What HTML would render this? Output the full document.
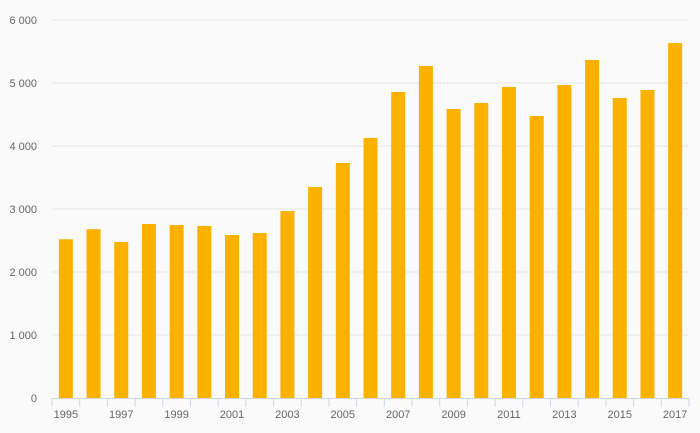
<!DOCTYPE html>
<html><head><meta charset="utf-8"><style>
body{margin:0;background:#fafafa;}
svg{display:block;font-family:"Liberation Sans",sans-serif;}
</style></head><body>
<svg id="chart" width="700" height="433"></svg>
<script>
const years=[1995,1996,1997,1998,1999,2000,2001,2002,2003,2004,2005,2006,2007,2008,2009,2010,2011,2012,2013,2014,2015,2016,2017];
const values=[2520,2680,2476,2762,2746,2730,2587,2619,2968,3349,3730,4127,4857,5270,4587,4683,4937,4476,4968,5365,4762,4889,5635];
const yTicks=[0,1000,2000,3000,4000,5000,6000];
const yTickLabels=["0","1 000","2 000","3 000","4 000","5 000","6 000"];
const ns="http://www.w3.org/2000/svg";
const svg=document.getElementById('chart');
const X0=52,X1=689,Y0=398,Y1=20,YMAX=6000;
const bw=(X1-X0)/years.length;
const y=v=>Y0-(v/YMAX)*(Y0-Y1);
const x=i=>X0+i*bw;
function mk(t,a){const e=document.createElementNS(ns,t);for(const k in a)e.setAttribute(k,a[k]);svg.appendChild(e);return e;}
yTicks.forEach((v,i)=>{
  if(v>0){const g=mk('line',{x1:X0,x2:X1,y1:y(v),y2:y(v),stroke:'#e6e6e6','stroke-width':1});
  
  }
  const t=mk('text',{x:37,y:y(v)+4,'text-anchor':'end','font-size':11,fill:'#666'});
  t.textContent=yTickLabels[i];
  
  
});
values.forEach((v,i)=>{
  const r=mk('rect',{x:x(i)+bw/2-7,y:y(v),width:14,height:Y0-y(v),fill:'#fbb100'});
  
  
});
const ax=mk('line',{x1:X0,x2:X1,y1:Y0+0.5,y2:Y0+0.5,stroke:'#ccd6eb'});


for(let i=0;i<=years.length;i++){
  const tk=mk('line',{x1:x(i),x2:x(i),y1:Y0,y2:Y0+9,stroke:'#ccd6eb'});
  
  
}
years.forEach((yr,i)=>{
  if(i%2)return;
  const t=mk('text',{x:x(i)+bw/2,y:418,'text-anchor':'middle','font-size':11,fill:'#666'});
  t.textContent=yr;
  
  
});
</script>
</body></html>
